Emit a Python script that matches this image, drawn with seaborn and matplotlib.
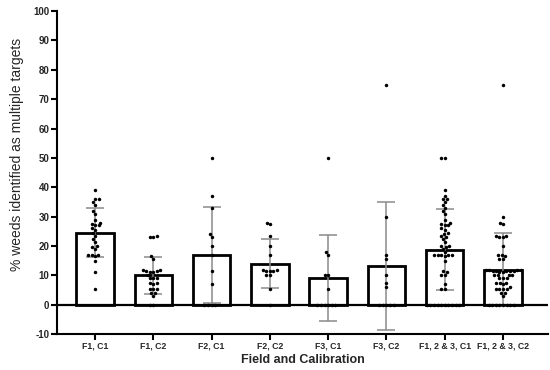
import matplotlib
matplotlib.use("Agg")
import matplotlib.pyplot as plt
import seaborn as sns
import pandas as pd
import numpy as np

categories = ["F1, C1", "F1, C2", "F2, C1", "F2, C2", "F3, C1", "F3, C2",
              "F1, 2 & 3, C1", "F1, 2 & 3, C2"]

f1c1 = [39, 36, 36, 35, 34, 32, 31, 29, 28, 27.5, 27, 27, 26, 25.5, 24.5, 23.5,
        22.5, 21.5, 20, 19.5, 19, 17, 17, 17, 16.5, 15, 11, 5.5]
f1c2 = [23.5, 23, 23, 16.5, 15.5, 12, 12, 11.5, 11.5, 11, 11, 10, 9, 9, 9, 7.5,
        7.5, 7, 5.5, 5.5, 5.5, 4, 4, 3, 0, 0]
f2c1 = [50, 37, 33, 24, 23, 20, 17, 11.5, 7, 0, 0, 0, 0]
f2c2 = [28, 27.5, 23.5, 20, 17, 12, 12, 11.5, 11.5, 11.5, 10, 10, 5.5, 0]
f3c1 = [50, 18, 17, 10, 10, 5.5, 0, 0, 0, 0, 0, 0]
f3c2 = [75, 30, 17, 15.5, 10, 7.5, 6, 0, 0, 0, 0, 0]
all_c1 = [50, 50, 39, 37, 36, 36, 35, 34, 33, 32, 31, 29, 28, 27.5, 27, 27, 26,
          25.5, 24.5, 24, 23.5, 23, 22.5, 21.5, 20, 20, 19.5, 19, 18, 17, 17, 17,
          17, 17, 16.5, 15, 11.5, 11, 10, 10, 7, 5.5, 5.5,
          0, 0, 0, 0, 0, 0, 0, 0, 0, 0]
all_c2 = [75, 30, 28, 27.5, 23.5, 23.5, 23, 23, 20, 17, 17, 16.5, 15.5, 15.5,
          12, 12, 12, 12, 11.5, 11.5, 11.5, 11.5, 11.5, 11, 11, 10, 10, 10, 10,
          9, 9, 9, 7.5, 7.5, 7.5, 7, 6, 5.5, 5.5, 5.5, 5.5, 4, 4, 3,
          0, 0, 0, 0, 0, 0, 0, 0]

bar_means = [24.5, 10.0, 17.0, 14.0, 9.2, 13.3, 18.8, 11.9]
bar_sds = [8.4, 6.4, 16.4, 8.4, 14.6, 21.8, 13.7, 12.4]

yticks = list(range(-10, 101, 10))

groups = [f1c1, f1c2, f2c1, f2c2, f3c1, f3c2, all_c1, all_c2]
points = pd.DataFrame({
    "group": [c for c, g in zip(categories, groups) for _ in g],
    "value": [v for g in groups for v in g],
})
bars = pd.DataFrame({"group": categories, "mean": bar_means, "sd": bar_sds})

sns.set_theme(style="ticks")
plt.rcParams["font.family"] = ["Liberation Sans", "DejaVu Sans"]

fig = plt.figure(figsize=(5.5, 3.7), dpi=100)
ax = fig.add_axes([0.1036, 0.097, 0.8928, 0.873])

sns.barplot(data=bars, x="group", y="mean", order=categories, color="white",
            edgecolor="black", linewidth=2, width=0.64, errorbar=None, ax=ax,
            zorder=1)
pos = np.arange(len(categories))
ax.errorbar(pos, bars["mean"], yerr=bars["sd"], fmt="none", ecolor="#8a8a8a",
            elinewidth=1.1, capsize=6.5, capthick=1.1, zorder=2)
ax.axhline(0, color="black", lw=1.6, zorder=2.5)
sns.swarmplot(data=points, x="group", y="value", order=categories,
              color="black", size=2.5, ax=ax, zorder=3)

ax.set_ylim(-10, 100)
ax.set_xlim(-0.65, 7.77)
ax.set_yticks(yticks)
ax.set_yticklabels([str(t) for t in yticks], fontsize=7, fontweight="bold")
ax.set_xticks(pos)
ax.set_xticklabels(categories, fontsize=6.3, fontweight="bold")
ax.set_ylabel("% weeds identified as multiple targets", fontsize=10)
ax.yaxis.set_label_coords(-0.068, 0.555)
ax.set_xlabel("Field and Calibration", fontsize=9, fontweight="bold", labelpad=2)

for s in ["top", "right"]:
    ax.spines[s].set_visible(False)
for s in ["left", "bottom"]:
    ax.spines[s].set_linewidth(1.5)
    ax.spines[s].set_color("black")
ax.tick_params(axis="both", length=4, width=1.5, color="black", pad=1.5)

fig.savefig("out.png", dpi=100)
